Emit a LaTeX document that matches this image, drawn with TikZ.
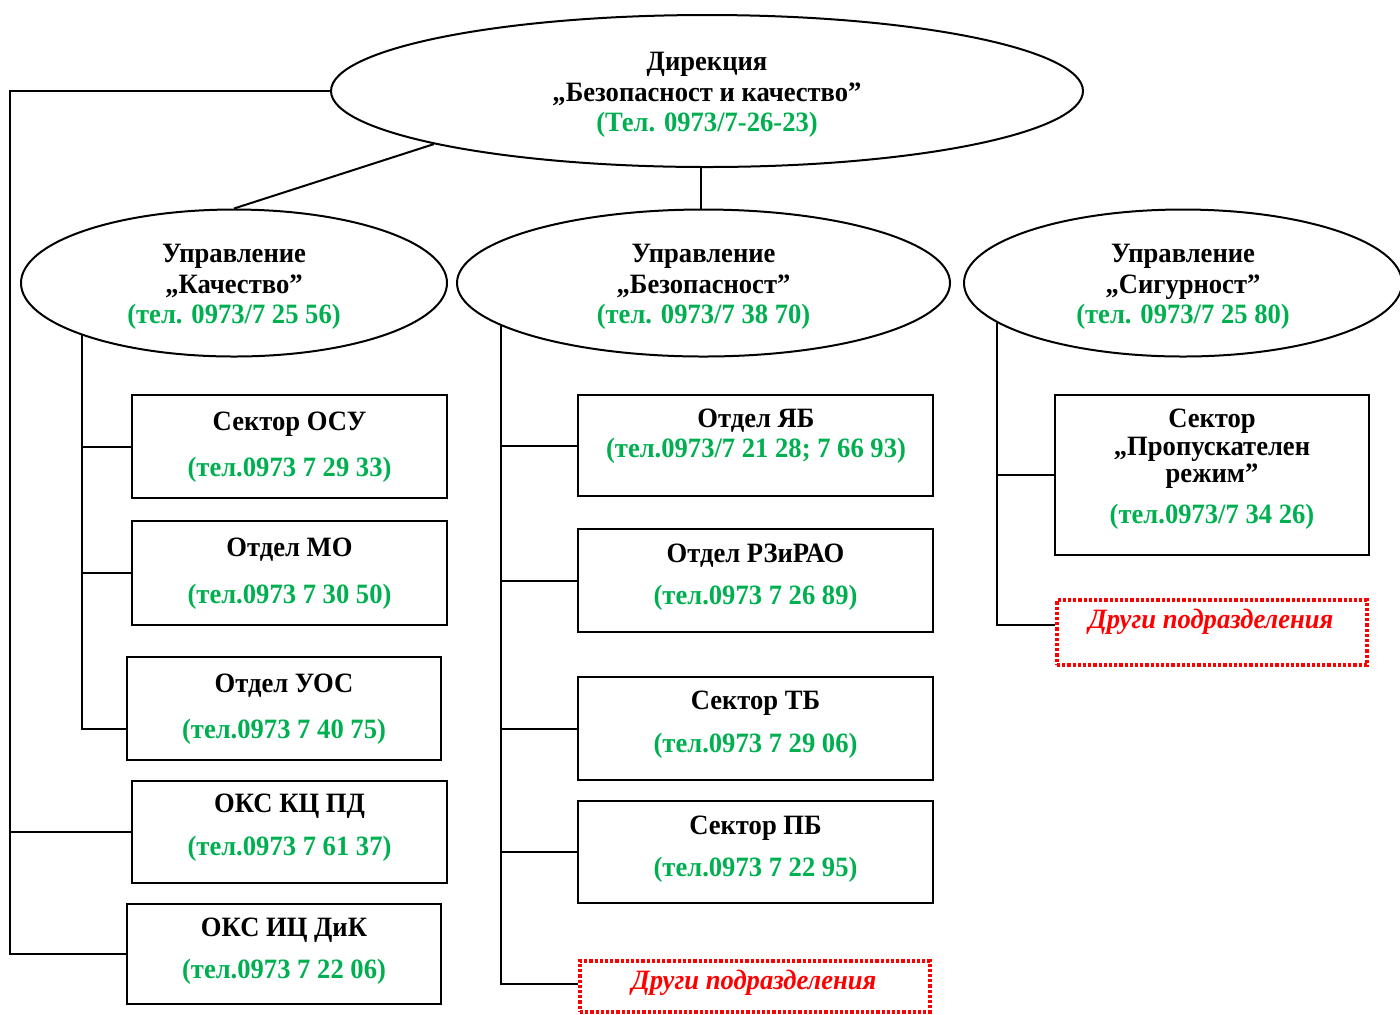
\documentclass[tikz,border=0pt]{standalone}
\usepackage{fontspec}
\setmainfont[FakeStretch=0.95]{Liberation Serif}
\usetikzlibrary{shapes.geometric,calc}
\definecolor{telgreen}{RGB}{0,176,80}
\definecolor{otherred}{RGB}{255,0,0}
\tikzset{
  unit/.style={draw,ellipse,line width=1pt,inner sep=0pt},
  unittext/.style={align=center,yshift=-2pt,font=\bfseries\fontsize{14}{15.2}\selectfont},
  box/.style={draw,rectangle,line width=1pt,inner sep=0pt},
  title/.style={anchor=base,font=\bfseries\fontsize{14}{15}\selectfont},
  tel/.style={anchor=base,text=telgreen,font=\bfseries\fontsize{14}{15}\selectfont},
  other/.style={draw=otherred,line width=1.6pt,dash pattern=on 1.6pt off 1pt,inner sep=0pt},
  othertext/.style={anchor=base,text=otherred,font=\bfseries\itshape\fontsize{14}{15}\selectfont},
  link/.style={line width=1pt}
}
\begin{document}
\begin{tikzpicture}[x=0.5pt,y=-0.5pt]
  \useasboundingbox (0,0) rectangle (1400,1014);

  % Direction and its three departments
  \node[unit,minimum width=376pt,minimum height=76pt] (dir) at (707,91) {};
  \node[unittext] (dirt) at (dir)
    {Дирекция\\„Безопасност и качество”\\{\color{telgreen}(Тел. 0973/7-26-23)}};
  \node[unit,minimum width=213pt,minimum height=73.5pt] (kach) at (234,283) {};
  \node[unittext] (kacht) at (kach)
    {Управление\\„Качество”\\{\color{telgreen}(тел. 0973/7 25 56)}};
  \node[unit,minimum width=246.5pt,minimum height=73.5pt] (bez) at (703.5,283) {};
  \node[unittext] (bezt) at (bez)
    {Управление\\„Безопасност”\\{\color{telgreen}(тел. 0973/7 38 70)}};
  \node[unit,minimum width=219pt,minimum height=73.5pt] (sig) at (1183,283) {};
  \node[unittext] (sigt) at (sig)
    {Управление\\„Сигурност”\\{\color{telgreen}(тел. 0973/7 25 80)}};

  % Units under "Kachestvo" and the direction
  \node[box,minimum width=157.5pt,minimum height=51.5pt] (osu) at (289.5,446.5) {};
  \node[title] (osut) at (289.5,430) {Сектор ОСУ};
  \node[tel] (osup) at (289.5,476) {(тел.0973 7 29 33)};
  \node[box,minimum width=157.5pt,minimum height=52pt] (mo) at (289.5,573) {};
  \node[title] (mot) at (289.5,556) {Отдел МО};
  \node[tel] (mop) at (289.5,603) {(тел.0973 7 30 50)};
  \node[box,minimum width=157pt,minimum height=51.5pt] (uos) at (284,708.5) {};
  \node[title] (uost) at (284,692) {Отдел УОС};
  \node[tel] (uosp) at (284,738) {(тел.0973 7 40 75)};
  \node[box,minimum width=157.5pt,minimum height=51pt] (okskc) at (289.5,832) {};
  \node[title] (okskct) at (289.5,812) {ОКС КЦ ПД};
  \node[tel] (okskcp) at (289.5,855) {(тел.0973 7 61 37)};
  \node[box,minimum width=157pt,minimum height=50pt] (oksic) at (284,954) {};
  \node[title] (oksict) at (284,936) {ОКС ИЦ ДиК};
  \node[tel] (oksicp) at (284,978) {(тел.0973 7 22 06)};

  % Units under "Bezopasnost"
  \node[box,minimum width=177.5pt,minimum height=50.5pt] (yab) at (755.5,445.5) {};
  \node[title] (yabt) at (756,427) {Отдел ЯБ};
  \node[tel] (yabp) at (756,457) {(тел.0973/7 21 28; 7 66 93)};
  \node[box,minimum width=177.5pt,minimum height=51.5pt] (rz) at (755.5,580.5) {};
  \node[title] (rzt) at (755.5,562) {Отдел РЗиРАО};
  \node[tel] (rzp) at (755.5,604) {(тел.0973 7 26 89)};
  \node[box,minimum width=177.5pt,minimum height=51.5pt] (tb) at (755.5,728.5) {};
  \node[title] (tbt) at (755.5,709) {Сектор ТБ};
  \node[tel] (tbp) at (755.5,752) {(тел.0973 7 29 06)};
  \node[box,minimum width=177.5pt,minimum height=51pt] (pb) at (755.5,852) {};
  \node[title] (pbt) at (755.5,834) {Сектор ПБ};
  \node[tel] (pbp) at (755.5,876) {(тел.0973 7 22 95)};
  \node[other,minimum width=175pt,minimum height=25.5pt] (othmid) at (755,986.5) {};
  \node[othertext] (othmidt) at (754,989) {Други подразделения};

  % Units under "Sigurnost"
  \node[box,minimum width=157pt,minimum height=80pt] (prop) at (1212,475) {};
  \node[title] (propt1) at (1212,427) {Сектор};
  \node[title] (propt2) at (1212,455) {„Пропускателен};
  \node[title] (propt3) at (1212,482) {режим”};
  \node[tel] (propp) at (1212,523) {(тел.0973/7 34 26)};
  \node[other,minimum width=155pt,minimum height=32.5pt] (othr) at (1212,632.5) {};
  \node[othertext] (othrt) at (1211,628) {Други подразделения};

  % Connections
  \coordinate (lbus) at (10,91);
  \draw[link] (dir.191) -- (kach.north);
  \draw[link] ($(bez.north)+(-2.5,0)$) -- ($(bez.north |- dir.south)+(-2.5,0)$);
  \draw[link] (dir.west) -- (lbus) |- (oksic.west);
  \draw[link] (okskc.west) -- (okskc.west -| lbus);

  \draw[link] (kach.199) |- ($(uos.west)+(0,20)$);
  \draw[link] (osu.west) -- (osu.west -| kach.199);
  \draw[link] (mo.west) -- (mo.west -| kach.199);

  \draw[link] (bez.192) |- ($(othmid.west)+(0,-2.5)$);
  \foreach \u in {yab,rz,tb,pb}
    \draw[link] (\u.west) -- (\u.west -| bez.192);

  \draw[link] (sig.192) |- ($(othr.west)+(0,-7.5)$);
  \draw[link] (prop.west) -- (prop.west -| sig.192);
\end{tikzpicture}
\end{document}
